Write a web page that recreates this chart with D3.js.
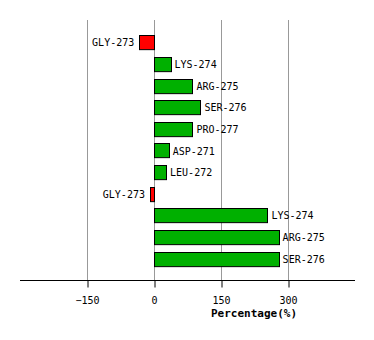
<!DOCTYPE html>
<html><head><meta charset="utf-8">
<script src="https://cdn.jsdelivr.net/npm/d3@7"></script>
<style>body{margin:0;background:#fff}svg{display:block}text{font-family:"DejaVu Sans Mono",monospace}</style>
</head><body><svg id="c" width="374" height="340"></svg>
<script>
const categories = ["GLY-273","LYS-274","ARG-275","SER-276","PRO-277","ASP-271","LEU-272","GLY-273","LYS-274","ARG-275","SER-276"];
const values = [-33, 37, 86, 104, 86, 33, 27, -9, 254, 279, 279];
const tickValues = [-150, 0, 150, 300];
const axisTitle = "Percentage(%)";

const svg = d3.select("#c");
const x = d3.scaleLinear().domain([-300, 450]).range([20, 355]);
const y = d3.scaleBand().domain(d3.range(categories.length)).range([32, 270]).paddingInner(0.3).paddingOuter(0.15);

// gridlines
svg.append("g").selectAll("line").data(tickValues).join("line")
  .attr("x1", d => Math.round(x(d)) + 0.5).attr("x2", d => Math.round(x(d)) + 0.5)
  .attr("y1", 20).attr("y2", 280).attr("stroke", "#999").attr("stroke-width", 1);

// bars
svg.append("g").selectAll("rect").data(values).join("rect")
  .attr("x", d => Math.round(x(Math.min(0, d))) + 0.5)
  .attr("width", d => Math.round(Math.abs(x(d) - x(0))))
  .attr("y", (d, i) => Math.round(y(i)) + 0.5)
  .attr("height", y.bandwidth() - 1)
  .attr("fill", d => d < 0 ? "#ff0000" : "#00b000")
  .attr("stroke", "#000").attr("stroke-width", 1);

// labels
svg.append("g").selectAll("text").data(values).join("text")
  .attr("x", d => d < 0 ? x(d) - 5 : x(d) + 4)
  .attr("y", (d, i) => y(i) + y.bandwidth() / 2)
  .attr("dy", "0.35em")
  .attr("text-anchor", d => d < 0 ? "end" : "start")
  .attr("font-size", 10).attr("fill", "#000")
  .text((d, i) => categories[i]);

// axis
const ax = svg.append("g").attr("transform", "translate(0,280.5)")
  .call(d3.axisBottom(x).tickValues(tickValues).tickSize(7).tickPadding(9).tickFormat(d3.format("d")));
ax.select(".domain").attr("d", "M20,0H355").attr("stroke", "#000");
ax.selectAll(".tick line").attr("stroke", "#000").attr("transform", "translate(0.5,0)");
ax.selectAll(".tick text").attr("font-family", "DejaVu Sans Mono, monospace").attr("font-size", 10).attr("fill", "#000");

svg.append("text").attr("x", 254).attr("y", 317).attr("text-anchor", "middle")
  .attr("font-size", 11).attr("font-weight", "bold").attr("fill", "#000").text(axisTitle);
</script></body></html>
